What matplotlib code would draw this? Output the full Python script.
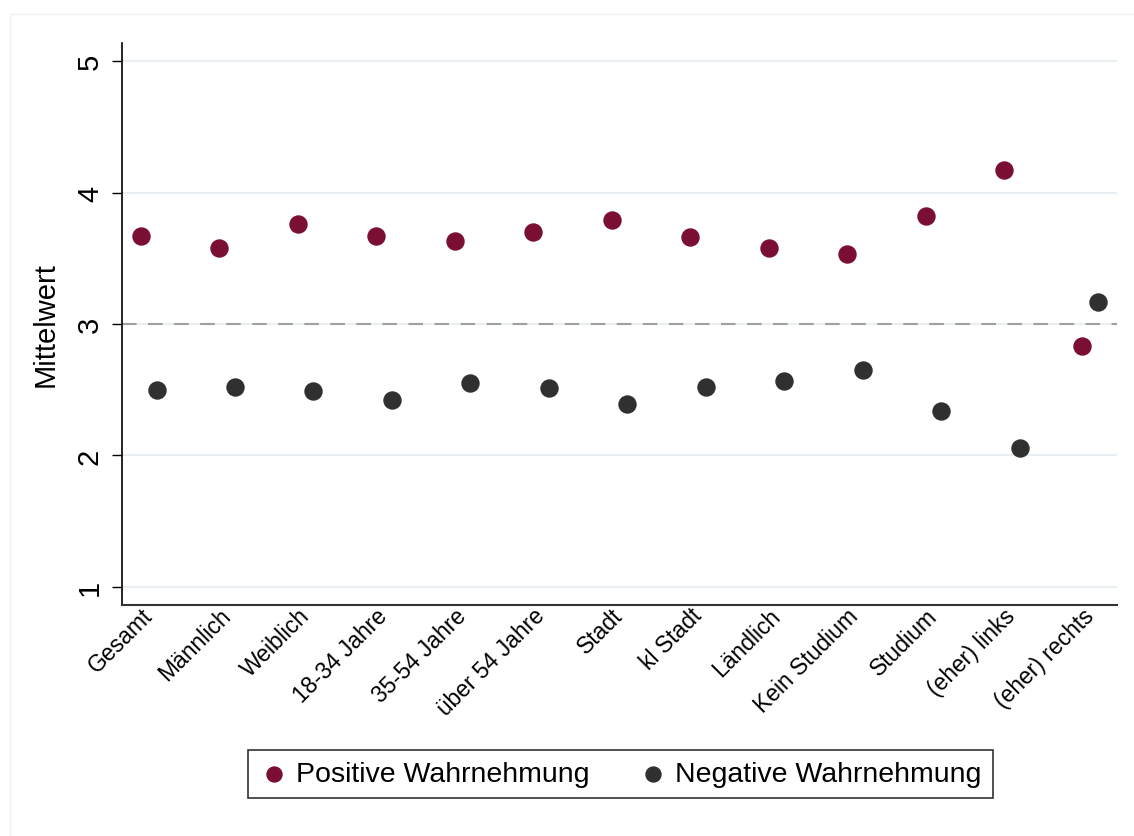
import numpy as np
import matplotlib.pyplot as plt
from matplotlib.patches import Rectangle

plt.rcParams['font.family'] = ['Liberation Sans', 'DejaVu Sans']

# Daten (Mittelwerte)
categories = ['Gesamt', 'Männlich', 'Weiblich', '18-34 Jahre', '35-54 Jahre',
              'über 54 Jahre', 'Stadt', 'kl Stadt', 'Ländlich', 'Kein Studium',
              'Studium', '(eher) links', '(eher) rechts']
positive = [3.67, 3.58, 3.76, 3.67, 3.63, 3.70, 3.79, 3.66, 3.58, 3.53, 3.82, 4.17, 2.83]
negative = [2.50, 2.52, 2.49, 2.42, 2.55, 2.51, 2.39, 2.52, 2.57, 2.65, 2.34, 2.06, 3.17]
yticks = [1, 2, 3, 4, 5]

col_pos = '#7a0e33'
col_neg = '#303030'

fig = plt.figure(figsize=(11.34, 8.37), dpi=100)
ax = fig.add_axes([0.1076, 0.276, 0.985 - 0.1076, 0.9474 - 0.276])

# leichter Rahmen um die Grafik
fig.patches.append(Rectangle((10 / 1134, -0.01), 1.1, 1 - 15 / 837 + 0.01,
                             transform=fig.transFigure, fill=False,
                             edgecolor='#f0f0f0', linewidth=1))

x = np.arange(len(categories))
ax.scatter(x - 0.1, positive, s=150, color=col_pos, zorder=3, label='Positive Wahrnehmung')
ax.scatter(x + 0.1, negative, s=150, color=col_neg, zorder=3, label='Negative Wahrnehmung')

ax.axhline(3, color='#a0a0a0', linewidth=1.5, linestyle=(0, (7, 5.5)), zorder=2)

ax.set_xlim(-0.34, len(categories) - 1 + 0.34)
ax.set_ylim(0.863, 5.137)
ax.set_yticks(yticks)
ax.set_yticklabels([str(v) for v in yticks], rotation=90, va='center', fontsize=21)
ax.yaxis.grid(True, color='#e8eff2', linewidth=1.5, zorder=0)
ax.set_axisbelow(True)

ax.set_xticks(x)
ax.set_xticklabels(categories, rotation=45, ha='right', va='center',
                   rotation_mode='anchor', fontsize=16.5)
ax.tick_params(axis='x', length=0, pad=5)
ax.tick_params(axis='y', length=7, width=1, pad=6)

ax.set_ylabel('Mittelwert', fontsize=21, labelpad=12)

for s in ['top', 'right']:
    ax.spines[s].set_visible(False)
ax.spines['left'].set_linewidth(1.2)
ax.spines['bottom'].set_linewidth(1.5)
ax.spines['bottom'].set_color('#333333')

leg = fig.legend(loc='center', bbox_to_anchor=(0.5472, 0.074), ncol=2,
                 fontsize=20.5, frameon=True, fancybox=False, edgecolor='black',
                 markerscale=0.88, handletextpad=0.3, columnspacing=1.7,
                 borderpad=0.4, borderaxespad=0, handlelength=1.0)
leg.get_frame().set_linewidth(1.2)

fig.savefig('out.png', dpi=100)
